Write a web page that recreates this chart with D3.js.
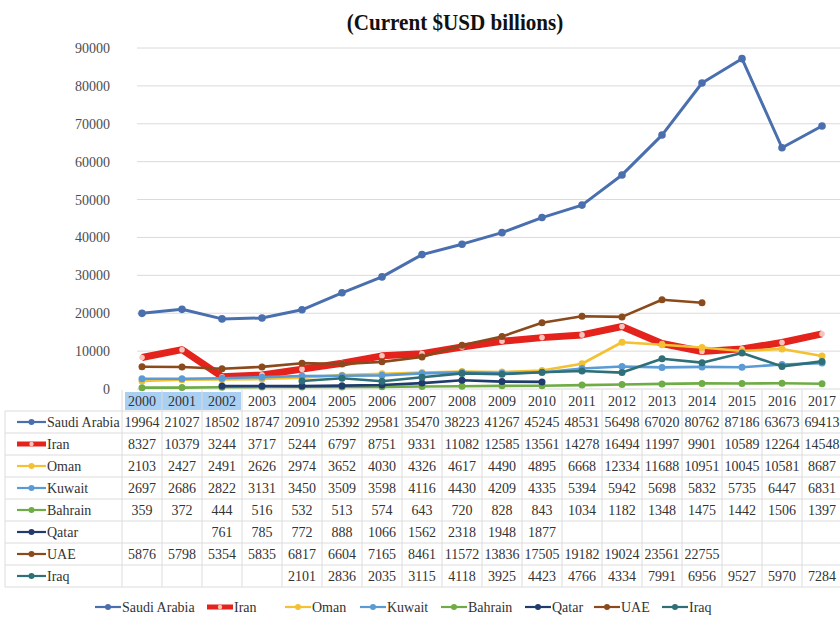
<!DOCTYPE html>
<html>
<head>
<meta charset="utf-8">
<script src="https://cdn.jsdelivr.net/npm/d3@7/dist/d3.min.js"></script>
<style>
  html, body { margin: 0; padding: 0; background: #fff; }
  svg { display: block; }
</style>
</head>
<body>
<svg id="chart" width="840" height="619"></svg>
<script>
// GDP by country, current USD billions, 2000–2017
const years = ["2000","2001","2002","2003","2004","2005","2006","2007","2008",
               "2009","2010","2011","2012","2013","2014","2015","2016","2017"];
const yTicks = [0, 10000, 20000, 30000, 40000, 50000, 60000, 70000, 80000, 90000];

const saudiArabia = [19964,21027,18502,18747,20910,25392,29581,35470,38223,41267,45245,48531,56498,67020,80762,87186,63673,69413];
const iran        = [8327,10379,3244,3717,5244,6797,8751,9331,11082,12585,13561,14278,16494,11997,9901,10589,12264,14548];
const oman        = [2103,2427,2491,2626,2974,3652,4030,4326,4617,4490,4895,6668,12334,11688,10951,10045,10581,8687];
const kuwait      = [2697,2686,2822,3131,3450,3509,3598,4116,4430,4209,4335,5394,5942,5698,5832,5735,6447,6831];
const bahrain     = [359,372,444,516,532,513,574,643,720,828,843,1034,1182,1348,1475,1442,1506,1397];
const qatar       = [null,null,761,785,772,888,1066,1562,2318,1948,1877,null,null,null,null,null,null,null];
const uae         = [5876,5798,5354,5835,6817,6604,7165,8461,11572,13836,17505,19182,19024,23561,22755,null,null,null];
const iraq        = [null,null,null,null,2101,2836,2035,3115,4118,3925,4423,4766,4334,7991,6956,9527,5970,7284];

const seriesNames = ["Saudi Arabia","Iran","Oman","Kuwait","Bahrain","Qatar","UAE","Iraq"];
const seriesValues = [saudiArabia, iran, oman, kuwait, bahrain, qatar, uae, iraq];

const FONT = "'Liberation Serif', 'Times New Roman', serif";

// line styling per series
const styles = {
  "Saudi Arabia": { color: "#4a6fae", width: 3,   r: 3.8, fill: "#4a6fae" },
  "Iran":         { color: "#e3231c", width: 7,   r: 2.8, fill: "#f7c4bd" },
  "Oman":         { color: "#f3c132", width: 2.6, r: 3.5, fill: "#f3c132" },
  "Kuwait":       { color: "#5b9bd5", width: 2.6, r: 3.5, fill: "#5b9bd5" },
  "Bahrain":      { color: "#6fac46", width: 2.6, r: 3.5, fill: "#6fac46" },
  "Qatar":        { color: "#203c6c", width: 2.6, r: 3.5, fill: "#203c6c" },
  "UAE":          { color: "#8a4a1c", width: 2.6, r: 3.5, fill: "#8a4a1c" },
  "Iraq":         { color: "#2e6f78", width: 2.6, r: 3.5, fill: "#2e6f78" }
};

const series = seriesNames.map((name, i) => ({
  name,
  values: years.map((yr, j) => ({ year: yr, value: seriesValues[i][j] }))
}));

const svg = d3.select("#chart");
svg.append("rect").attr("width", 840).attr("height", 619).attr("fill", "#fff");

// year columns shared by the plot and the data table
const x = d3.scaleBand().domain(years).range([122, 842]).padding(0);
const cx = d => x(d) + x.bandwidth() / 2;
const y = d3.scaleLinear().domain([0, 90000]).range([389, 48]);

// title (condensed bold serif)
svg.append("text")
  .attr("transform", "translate(455,30) scale(0.88,1)")
  .attr("text-anchor", "middle")
  .style("font-family", FONT)
  .style("font-size", "24px").style("font-weight", "bold")
  .attr("fill", "#111")
  .text("(Current $USD billions)");

// gridlines
svg.append("g").selectAll("line").data(yTicks).join("line")
  .attr("x1", 137).attr("x2", 840)
  .attr("y1", d => y(d)).attr("y2", d => y(d))
  .attr("stroke", "#dadada").attr("stroke-width", 1);

// y axis labels
const yAxis = d3.axisLeft(y).tickValues(yTicks).tickSize(0).tickPadding(0)
  .tickFormat(d3.format("d"));
const gy = svg.append("g").attr("transform", "translate(110,0)").call(yAxis);
gy.select(".domain").remove();
gy.selectAll("text")
  .style("font-family", FONT)
  .style("font-size", "14px").attr("fill", "#4d4d4d");

// ---- data table ----
const rowTop = 390, headerH = 21, rowH = 22;
const tbl = svg.append("g");
const tableBottom = rowTop + headerH + rowH * series.length;

// selection highlight on the first header cells
tbl.append("rect")
  .attr("x", x("2000") + 3).attr("y", rowTop + 2)
  .attr("width", x("2003") - x("2000") - 4).attr("height", headerH - 3)
  .attr("fill", "#a9d0f3");

// vertical column rules
tbl.selectAll("line.v").data(years.concat(["end"])).join("line")
  .attr("class", "v")
  .attr("x1", d => d === "end" ? 842 : x(d))
  .attr("x2", d => d === "end" ? 842 : x(d))
  .attr("y1", rowTop).attr("y2", tableBottom)
  .attr("stroke", "#dcdcdc");
tbl.append("line")
  .attr("x1", 5).attr("x2", 5)
  .attr("y1", rowTop + headerH).attr("y2", tableBottom)
  .attr("stroke", "#dcdcdc");

// horizontal row rules
const hRules = d3.range(series.length + 1).map(i => rowTop + headerH + i * rowH);
tbl.selectAll("line.h").data(hRules).join("line")
  .attr("class", "h")
  .attr("x1", 5).attr("x2", 840)
  .attr("y1", d => d).attr("y2", d => d)
  .attr("stroke", "#dcdcdc");

// header years
tbl.selectAll("text.yr").data(years).join("text")
  .attr("class", "yr")
  .attr("x", d => cx(d)).attr("y", rowTop + headerH / 2 + 5)
  .attr("text-anchor", "middle")
  .style("font-family", FONT).style("font-size", "14px")
  .attr("fill", "#333")
  .text(d => d);

// legend key used in the table and the bottom legend
function drawKey(g, s, x0, yc, len) {
  const st = styles[s.name];
  g.append("line")
    .attr("x1", x0).attr("x2", x0 + len)
    .attr("y1", yc).attr("y2", yc)
    .attr("stroke", st.color)
    .attr("stroke-width", s.name === "Iran" ? 5 : 2.2);
  g.append("circle")
    .attr("cx", x0 + len / 2).attr("cy", yc).attr("r", s.name === "Iran" ? 2.2 : 3)
    .attr("fill", st.fill);
}

series.forEach((s, i) => {
  const yc = rowTop + headerH + i * rowH + rowH / 2;
  const row = tbl.append("g");
  drawKey(row, s, 17, yc, 29);
  row.append("text")
    .attr("x", 47).attr("y", yc + 5)
    .style("font-family", FONT).style("font-size", "14px")
    .attr("fill", "#333")
    .text(s.name);
  row.selectAll("text.v").data(s.values.filter(d => d.value !== null)).join("text")
    .attr("class", "v")
    .attr("x", d => cx(d.year)).attr("y", yc + 5)
    .attr("text-anchor", "middle")
    .style("font-family", FONT).style("font-size", "14px")
    .attr("fill", "#333")
    .text(d => d.value);
});

// ---- lines ----
const line = d3.line()
  .defined(d => d.value !== null)
  .x(d => cx(d.year))
  .y(d => y(d.value));

const plot = svg.append("g");
series.forEach(s => {
  const st = styles[s.name];
  const g = plot.append("g");
  g.append("path")
    .datum(s.values)
    .attr("d", line)
    .attr("fill", "none")
    .attr("stroke", st.color)
    .attr("stroke-width", st.width)
    .attr("stroke-linejoin", "round");
  g.selectAll("circle").data(s.values.filter(d => d.value !== null)).join("circle")
    .attr("cx", d => cx(d.year)).attr("cy", d => y(d.value))
    .attr("r", st.r)
    .attr("fill", st.fill);
});

// ---- bottom legend ----
const legendX = [95, 207, 285, 360, 441, 525, 594, 662];
const legend = svg.append("g");
series.forEach((s, i) => {
  const g = legend.append("g");
  drawKey(g, s, legendX[i], 607, 26);
  g.append("text")
    .attr("x", legendX[i] + 27).attr("y", 612)
    .style("font-family", FONT).style("font-size", "14px")
    .attr("fill", "#333")
    .text(s.name);
});
</script>
</body>
</html>
